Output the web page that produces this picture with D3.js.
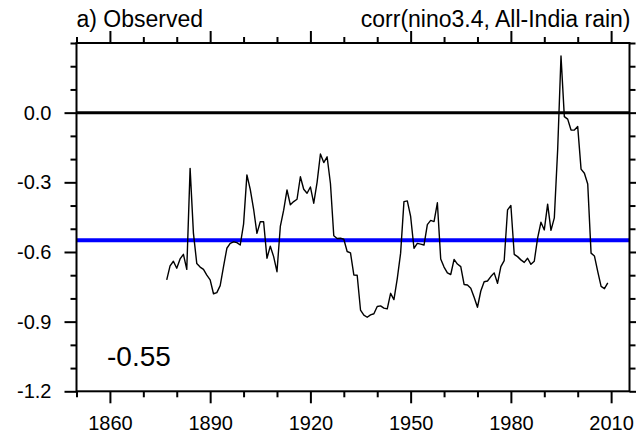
<!DOCTYPE html>
<html>
<head>
<meta charset="utf-8">
<script src="https://cdn.jsdelivr.net/npm/d3@7"></script>
<style>
  body { margin: 0; background: #fff; }
  svg text { font-family: "Liberation Sans", Arial, Helvetica, sans-serif; fill: #000; }
</style>
</head>
<body>
<svg id="chart" width="636" height="438"></svg>
<script>
/*
Running correlation between nino3.4 and All-India rain (observed).
*/

// first year of the running correlation series
var startYear = 1877;
// one value per year, 1877 .. 2009
var corrValues = [
  -0.72, -0.66, -0.64, -0.67, -0.63, -0.61, -0.675, -0.24, -0.52, -0.65,
  -0.665, -0.675, -0.70, -0.72, -0.78, -0.775, -0.745, -0.663, -0.584, -0.563,
  -0.556, -0.56, -0.57, -0.48, -0.268, -0.33, -0.415, -0.52, -0.47, -0.47,
  -0.627, -0.575, -0.62, -0.685, -0.49, -0.42, -0.333, -0.397, -0.383, -0.373,
  -0.276, -0.33, -0.347, -0.32, -0.39, -0.30, -0.178, -0.215, -0.19, -0.305,
  -0.53, -0.542, -0.541, -0.545, -0.598, -0.604, -0.699, -0.70, -0.85, -0.872,
  -0.881, -0.871, -0.866, -0.835, -0.832, -0.842, -0.845, -0.778, -0.805, -0.715,
  -0.605, -0.383, -0.38, -0.447, -0.584, -0.563, -0.566, -0.57, -0.482, -0.464,
  -0.469, -0.388, -0.63, -0.665, -0.69, -0.697, -0.632, -0.652, -0.663, -0.74,
  -0.742, -0.756, -0.795, -0.838, -0.768, -0.728, -0.725, -0.706, -0.69, -0.735,
  -0.663, -0.637, -0.419, -0.40, -0.61, -0.62, -0.634, -0.645, -0.627, -0.653,
  -0.64, -0.54, -0.472, -0.505, -0.394, -0.507, -0.453, -0.16, 0.244, -0.017,
  -0.028, -0.075, -0.075, -0.06, -0.243, -0.261, -0.307, -0.605, -0.617, -0.685,
  -0.748, -0.758, -0.733
];
var meanCorr = -0.55;
var meanLabel = "-0.55";

var xMajor = [1860, 1890, 1920, 1950, 1980, 2010];
var xMinor = [1850, 1870, 1880, 1900, 1910, 1930, 1940, 1960, 1970, 1990, 2000];
var yMajor = [0.0, -0.3, -0.6, -0.9, -1.2];
var yMinor = [0.3, 0.2, 0.1, -0.1, -0.2, -0.4, -0.5, -0.7, -0.8, -1.0, -1.1];

var titleLeft = "a) Observed";
var titleRight = "corr(nino3.4, All-India rain)";

function main() {
  var svg = d3.select("#chart");
  var left = 76.5, right = 629.5, top = 43, bottom = 391.3;

  var x = d3.scaleLinear().domain([1850, 2015.5]).range([left, right]);
  var y = d3.scaleLinear().domain([-1.2, 0.3]).range([bottom, top]);

  var series = corrValues.map(function(v, i) { return { year: startYear + i, value: v }; });

  // reference lines
  svg.append("line")
    .attr("x1", left).attr("x2", right)
    .attr("y1", y(0)).attr("y2", y(0))
    .attr("stroke", "#000").attr("stroke-width", 3);
  svg.append("line")
    .attr("x1", left).attr("x2", right)
    .attr("y1", y(meanCorr)).attr("y2", y(meanCorr))
    .attr("stroke", "#0000ff").attr("stroke-width", 4);

  // the correlation curve
  var line = d3.line().x(d => x(d.year)).y(d => y(d.value));
  svg.append("path")
    .datum(series)
    .attr("d", line)
    .attr("fill", "none")
    .attr("stroke", "#000")
    .attr("stroke-width", 1.4)
    .attr("stroke-linejoin", "round");

  // axes: major ticks with labels, minor ticks without, all pointing out
  function styleAxis(g) {
    g.select(".domain").remove();
    g.selectAll(".tick line").attr("stroke", "#000").attr("stroke-width", 2);
    g.selectAll(".tick text").attr("font-size", 20).attr("fill", "#000");
  }
  var noLabel = function() { return ""; };

  svg.append("g").attr("transform", "translate(" + left + ",0)")
    .call(d3.axisLeft(y).tickValues(yMajor).tickSize(12).tickPadding(13)
      .tickFormat(d => d.toFixed(1)))
    .call(styleAxis);
  svg.append("g").attr("transform", "translate(" + left + ",0)")
    .call(d3.axisLeft(y).tickValues(yMinor).tickSize(6).tickFormat(noLabel))
    .call(styleAxis);
  svg.append("g").attr("transform", "translate(" + right + ",0)")
    .call(d3.axisRight(y).tickValues(yMajor).tickSize(12).tickFormat(noLabel))
    .call(styleAxis);
  svg.append("g").attr("transform", "translate(" + right + ",0)")
    .call(d3.axisRight(y).tickValues(yMinor).tickSize(6).tickFormat(noLabel))
    .call(styleAxis);

  svg.append("g").attr("transform", "translate(0," + bottom + ")")
    .call(d3.axisBottom(x).tickValues(xMajor).tickSize(12).tickPadding(13)
      .tickFormat(d3.format("d")))
    .call(styleAxis);
  svg.append("g").attr("transform", "translate(0," + bottom + ")")
    .call(d3.axisBottom(x).tickValues(xMinor).tickSize(6).tickFormat(noLabel))
    .call(styleAxis);
  svg.append("g").attr("transform", "translate(0," + top + ")")
    .call(d3.axisTop(x).tickValues(xMajor).tickSize(12).tickFormat(noLabel))
    .call(styleAxis);
  svg.append("g").attr("transform", "translate(0," + top + ")")
    .call(d3.axisTop(x).tickValues(xMinor).tickSize(6).tickFormat(noLabel))
    .call(styleAxis);

  // frame
  svg.append("rect")
    .attr("x", left).attr("y", top)
    .attr("width", right - left).attr("height", bottom - top)
    .attr("fill", "none").attr("stroke", "#000").attr("stroke-width", 2);

  // titles
  svg.append("text")
    .attr("x", left).attr("y", 27)
    .attr("font-size", 23)
    .text(titleLeft);
  svg.append("text")
    .attr("x", right + 1).attr("y", 27)
    .attr("text-anchor", "end")
    .attr("font-size", 23)
    .text(titleRight);

  // mean correlation label
  svg.append("text")
    .attr("x", 107).attr("y", 366)
    .attr("font-size", 28)
    .text(meanLabel);
}

main();
</script>
</body>
</html>
